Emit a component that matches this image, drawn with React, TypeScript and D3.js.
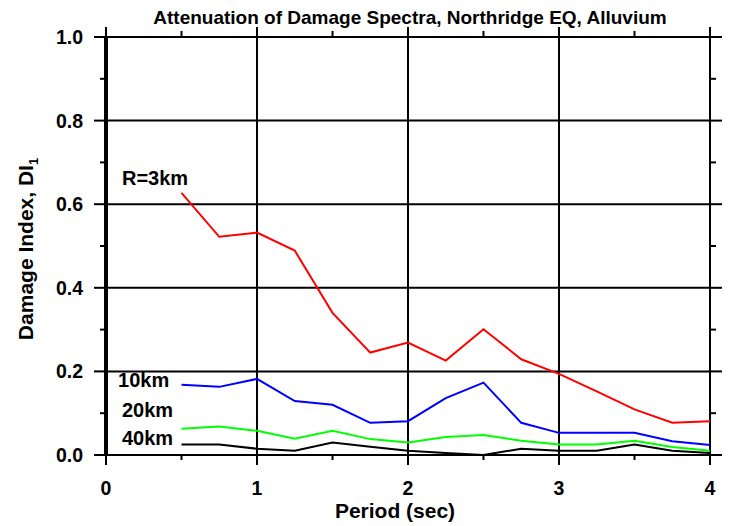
import React from "react";
import * as d3 from "d3";

// Period (sec) at which the damage index was evaluated
const periods = [0.5, 0.75, 1.0, 1.25, 1.5, 1.75, 2.0, 2.25, 2.5, 2.75, 3.0, 3.25, 3.5, 3.75, 4.0];

// Damage index DI1 for each source distance
const di3km = [0.627, 0.522, 0.532, 0.489, 0.34, 0.245, 0.269, 0.226, 0.301, 0.229, 0.194, 0.152, 0.109, 0.077, 0.081];
const di10km = [0.168, 0.163, 0.182, 0.129, 0.12, 0.077, 0.081, 0.136, 0.173, 0.077, 0.053, 0.053, 0.053, 0.033, 0.024];
const di20km = [0.063, 0.068, 0.058, 0.039, 0.058, 0.038, 0.03, 0.043, 0.048, 0.034, 0.025, 0.025, 0.034, 0.019, 0.01];
const di40km = [0.025, 0.025, 0.015, 0.01, 0.03, 0.02, 0.01, 0.005, 0.0, 0.015, 0.01, 0.01, 0.025, 0.01, 0.005];

const seriesNames = ["R=3km", "10km", "20km", "40km"];

const xTicks = [0, 1, 2, 3, 4];
const xMinorTicks = [0.5, 1.5, 2.5, 3.5];
const yTicks = [0, 0.2, 0.4, 0.6, 0.8, 1.0];
const yMinorTicks = [0.1, 0.3, 0.5, 0.7, 0.9];

const W = 729;
const H = 526;
const margin = { left: 106, right: 19, top: 37, bottom: 71 };
const FONT = "'Liberation Sans', Arial, Helvetica, sans-serif";

export default function App() {
  const x = d3.scaleLinear().domain([0, 4]).range([margin.left, W - margin.right]);
  const y = d3.scaleLinear().domain([0, 1]).range([H - margin.bottom, margin.top]);

  const series = [
    { name: seriesNames[0], values: di3km, color: "#ff0000", lx: 0.106, ly: 0.646 },
    { name: seriesNames[1], values: di10km, color: "#0000ff", lx: 0.08, ly: 0.163 },
    { name: seriesNames[2], values: di20km, color: "#00ff00", lx: 0.106, ly: 0.091 },
    { name: seriesNames[3], values: di40km, color: "#000000", lx: 0.106, ly: 0.024 },
  ];

  const line = d3
    .line<number>()
    .x((_, i) => x(periods[i]))
    .y((d) => y(d));

  const x0 = x(0);
  const x1 = x(4);
  const y0 = y(0);
  const y1 = y(1);

  return (
    <svg
      width={W}
      height={H}
      style={{ position: "absolute", left: 0, top: 0, background: "#fff" }}
      fontFamily={FONT}
      fontWeight="bold"
    >
      <rect width={W} height={H} fill="#fff" />
      <text x={410} y={24} textAnchor="middle" fontSize={19} fill="#000">
        Attenuation of Damage Spectra, Northridge EQ, Alluvium
      </text>

      {/* grid */}
      {xTicks.map((t) => (
        <line key={"gx" + t} x1={x(t)} x2={x(t)} y1={y0} y2={y1} stroke="#000" strokeWidth={2} />
      ))}
      {yTicks.map((t) => (
        <line key={"gy" + t} x1={x0} x2={x1} y1={y(t)} y2={y(t)} stroke="#000" strokeWidth={2} />
      ))}

      {/* left axis ticks */}
      {yTicks.map((t) => (
        <line key={"lt" + t} x1={x0 - 12} x2={x0} y1={y(t)} y2={y(t)} stroke="#000" strokeWidth={2} />
      ))}
      {yMinorTicks.map((t) => (
        <line key={"lm" + t} x1={x0 - 6} x2={x0} y1={y(t)} y2={y(t)} stroke="#000" strokeWidth={2} />
      ))}
      {/* right axis ticks */}
      {yTicks.map((t) => (
        <line key={"rt" + t} x1={x1} x2={x1 + 12} y1={y(t)} y2={y(t)} stroke="#000" strokeWidth={2} />
      ))}
      {yMinorTicks.map((t) => (
        <line key={"rm" + t} x1={x1} x2={x1 + 6} y1={y(t)} y2={y(t)} stroke="#000" strokeWidth={2} />
      ))}
      {/* bottom axis ticks */}
      {xTicks.map((t) => (
        <line key={"bt" + t} x1={x(t)} x2={x(t)} y1={y0} y2={y0 + 10} stroke="#000" strokeWidth={2} />
      ))}
      {xMinorTicks.map((t) => (
        <line key={"bm" + t} x1={x(t)} x2={x(t)} y1={y0} y2={y0 + 5} stroke="#000" strokeWidth={2} />
      ))}
      {/* top axis ticks */}
      {xTicks.map((t) => (
        <line key={"tt" + t} x1={x(t)} x2={x(t)} y1={y1} y2={y1 - 10} stroke="#000" strokeWidth={2} />
      ))}
      {xMinorTicks.map((t) => (
        <line key={"tm" + t} x1={x(t)} x2={x(t)} y1={y1} y2={y1 - 6} stroke="#000" strokeWidth={2} />
      ))}

      {/* heavy left axis */}
      <line x1={x0} x2={x0} y1={y0} y2={y1} stroke="#000" strokeWidth={4} />

      {/* series */}
      {series.map((s) => (
        <path key={s.name} d={line(s.values) || ""} fill="none" stroke={s.color} strokeWidth={2} />
      ))}
      {series.map((s) => (
        <text key={"l" + s.name} x={x(s.lx)} y={y(s.ly)} fontSize={20} fill="#000">
          {s.name}
        </text>
      ))}

      {/* tick labels */}
      {yTicks.map((t) => (
        <text key={"yl" + t} x={83} y={y(t) + 7} textAnchor="end" fontSize={19.5} fill="#000">
          {t.toFixed(1)}
        </text>
      ))}
      {xTicks.map((t) => (
        <text key={"xl" + t} x={x(t)} y={495} textAnchor="middle" fontSize={19.5} fill="#000">
          {t}
        </text>
      ))}

      <text x={395} y={518} textAnchor="middle" fontSize={21} fill="#000">
        Period (sec)
      </text>
      <text transform="translate(33,249) rotate(-90)" textAnchor="middle" fontSize={21} fill="#000">
        Damage Index, DI<tspan fontSize={13} dy={5}>1</tspan>
      </text>
    </svg>
  );
}
